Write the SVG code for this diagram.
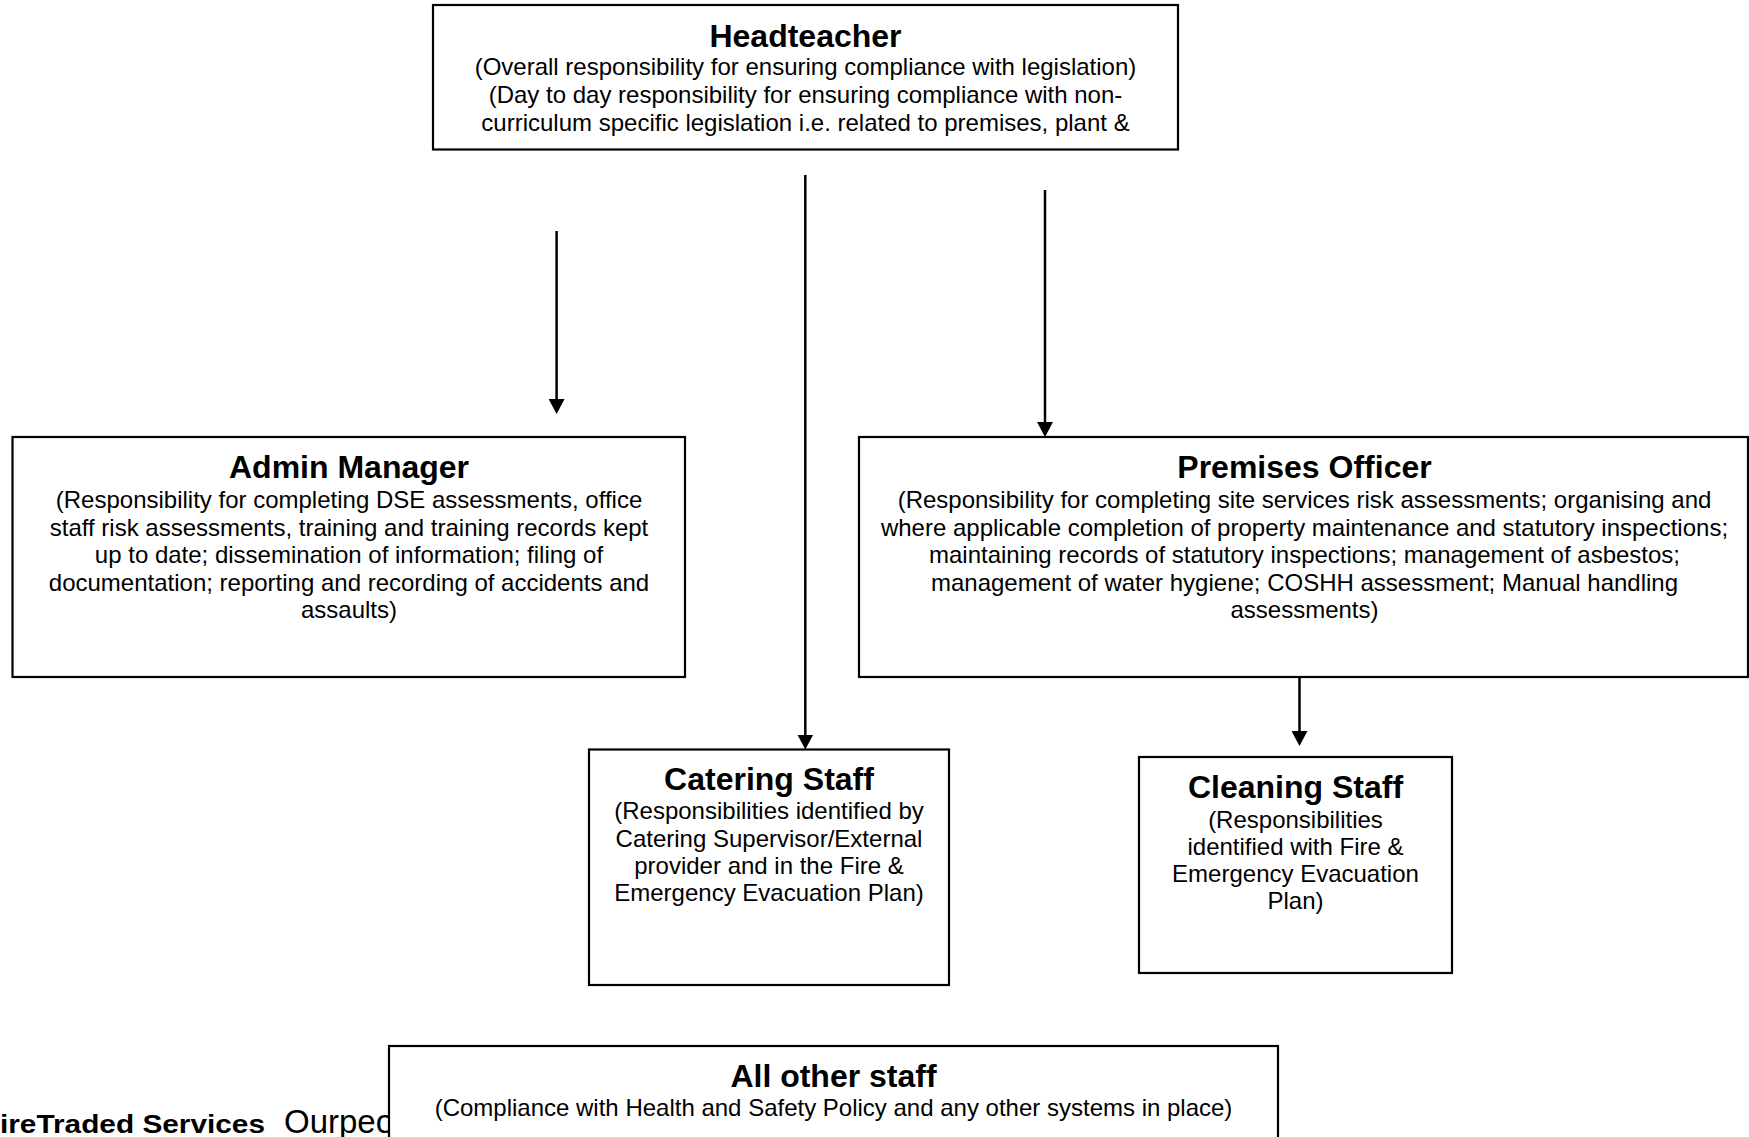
<svg xmlns="http://www.w3.org/2000/svg" width="1749" height="1137" viewBox="0 0 1749 1137">
<style>
.box{fill:#fff;stroke:#000;stroke-width:2.2}
.t{font-family:"Liberation Sans",Arial,sans-serif;font-weight:bold;font-size:32px;text-anchor:middle;fill:#000}
.b{font-family:"Liberation Sans",Arial,sans-serif;font-size:24px;text-anchor:middle;fill:#000}
.c{stroke:#000;stroke-width:2.5;fill:none}
</style>
<defs>
<marker id="ah" markerUnits="userSpaceOnUse" viewBox="0 0 15 16" refX="11" refY="8" markerWidth="15" markerHeight="16" orient="auto">
<path d="M0,0 L15,8 L0,16 z" fill="#000"/>
</marker>
</defs>
<rect width="1749" height="1137" fill="#fff"/>
<g id="footer-text">
<text x="0" y="1133" font-family="'Liberation Sans',Arial,sans-serif" font-weight="bold" font-size="26" textLength="265" lengthAdjust="spacingAndGlyphs">ireTraded Services</text>
<text x="284" y="1133" font-family="'Liberation Sans',Arial,sans-serif" font-size="33">Ourpeo</text>
</g>
<g id="connectors">
<line class="c" x1="556.6" y1="231" x2="556.6" y2="410" marker-end="url(#ah)"/>
<line class="c" x1="805.3" y1="175" x2="805.3" y2="745.5" stroke-width="3" marker-end="url(#ah)"/>
<line class="c" x1="1045" y1="190" x2="1045" y2="433" marker-end="url(#ah)"/>
<line class="c" x1="1299.5" y1="675" x2="1299.5" y2="742" marker-end="url(#ah)"/>
</g>
<g id="headteacher">
<rect class="box" x="433" y="5" width="745" height="144.5"/>
<text class="t" x="805.5" y="47">Headteacher</text>
<text class="b" x="805.5" y="75">(Overall responsibility for ensuring compliance with legislation)</text>
<text class="b" x="805.5" y="103">(Day to day responsibility for ensuring compliance with non-</text>
<text class="b" x="805.5" y="131">curriculum specific legislation i.e. related to premises, plant &amp;</text>
</g>
<g id="admin-manager">
<rect class="box" x="12.5" y="437" width="672.5" height="240"/>
<text class="t" x="349" y="478">Admin Manager</text>
<text class="b" x="349" y="508">(Responsibility for completing DSE assessments, office</text>
<text class="b" x="349" y="535.5">staff risk assessments, training and training records kept</text>
<text class="b" x="349" y="563">up to date; dissemination of information; filing of</text>
<text class="b" x="349" y="590.5">documentation; reporting and recording of accidents and</text>
<text class="b" x="349" y="618">assaults)</text>
</g>
<g id="premises-officer">
<rect class="box" x="859" y="437" width="889" height="240"/>
<text class="t" x="1304.5" y="478">Premises Officer</text>
<text class="b" x="1304.5" y="508">(Responsibility for completing site services risk assessments; organising and</text>
<text class="b" x="1304.5" y="535.5">where applicable completion of property maintenance and statutory inspections;</text>
<text class="b" x="1304.5" y="563">maintaining records of statutory inspections; management of asbestos;</text>
<text class="b" x="1304.5" y="590.5">management of water hygiene; COSHH assessment; Manual handling</text>
<text class="b" x="1304.5" y="618">assessments)</text>
</g>
<g id="catering-staff">
<rect class="box" x="589" y="749.5" width="360" height="235.5"/>
<text class="t" x="769" y="790">Catering Staff</text>
<text class="b" x="769" y="819">(Responsibilities identified by</text>
<text class="b" x="769" y="847">Catering Supervisor/External</text>
<text class="b" x="769" y="874">provider and in the Fire &amp;</text>
<text class="b" x="769" y="901">Emergency Evacuation Plan)</text>
</g>
<g id="cleaning-staff">
<rect class="box" x="1139" y="757" width="313" height="216"/>
<text class="t" x="1295.5" y="798">Cleaning Staff</text>
<text class="b" x="1295.5" y="828">(Responsibilities</text>
<text class="b" x="1295.5" y="855">identified with Fire &amp;</text>
<text class="b" x="1295.5" y="882">Emergency Evacuation</text>
<text class="b" x="1295.5" y="909">Plan)</text>
</g>
<g id="all-other-staff">
<rect class="box" x="389" y="1046" width="889" height="100"/>
<text class="t" x="833.5" y="1087">All other staff</text>
<text class="b" x="833.5" y="1116">(Compliance with Health and Safety Policy and any other systems in place)</text>
</g>
</svg>
